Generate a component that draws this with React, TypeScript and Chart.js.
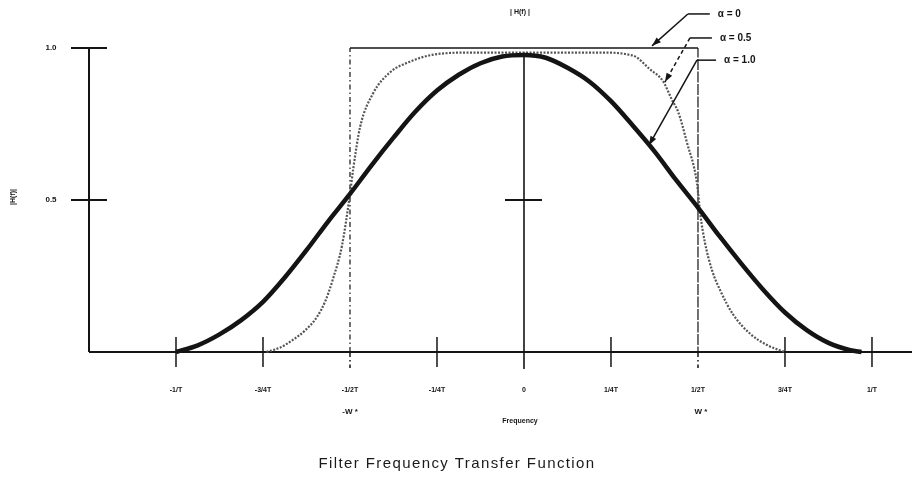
import React, { useEffect, useRef } from "react";
import { Chart, registerables } from "chart.js";

Chart.register(...registerables);

// Frequency in units of 1/T
const tickValues = [-1, -0.75, -0.5, -0.25, 0, 0.25, 0.5, 0.75, 1];
const tickLabels = ["-1/T", "-3/4T", "-1/2T", "-1/4T", "0", "1/4T", "1/2T", "3/4T", "1/T"];
const yTickValues = [1.0, 0.5];
const yTickLabels = ["1.0", "0.5"];

// alpha = 1.0 (thick curve)
const alpha1Freq = [-1.0, -0.9375, -0.875, -0.8125, -0.75, -0.6875, -0.625, -0.5625, -0.5, -0.4375, -0.375, -0.3125, -0.25, -0.1875, -0.125, -0.0625, 0, 0.0625, 0.125, 0.1875, 0.25, 0.3125, 0.375, 0.4375, 0.5, 0.5625, 0.625, 0.6875, 0.75, 0.8125, 0.875, 0.9375, 0.97];
const alpha1Gain = [0.0, 0.022, 0.058, 0.105, 0.165, 0.245, 0.335, 0.43, 0.52, 0.615, 0.705, 0.79, 0.86, 0.912, 0.95, 0.972, 0.977, 0.968, 0.935, 0.89, 0.825, 0.745, 0.66, 0.565, 0.475, 0.38, 0.29, 0.205, 0.13, 0.072, 0.03, 0.006, 0.0];

// alpha = 0.5 (dotted curve)
const alpha05Freq = [-0.74, -0.7, -0.664, -0.63, -0.595, -0.57, -0.549, -0.523, -0.5, -0.491, -0.471, -0.434, -0.385, -0.328, -0.261, -0.15, 0, 0.218, 0.313, 0.362, 0.4, 0.425, 0.443, 0.468, 0.497, 0.507, 0.52, 0.54, 0.565, 0.6, 0.65, 0.7, 0.75];
const alpha05Gain = [0.0, 0.015, 0.04, 0.07, 0.115, 0.17, 0.24, 0.35, 0.52, 0.6, 0.74, 0.85, 0.92, 0.955, 0.978, 0.985, 0.985, 0.985, 0.975, 0.93, 0.89, 0.83, 0.79, 0.69, 0.556, 0.45, 0.36, 0.27, 0.2, 0.125, 0.06, 0.022, 0.0];

// alpha = 0 (ideal rectangle)
const alpha0Freq = [-0.5, -0.5, 0.5, 0.5];
const alpha0Gain = [0, 1, 1, 0];

const legendLabels = ["α = 0", "α = 0.5", "α = 1.0"];
// leader lines in data units
const leaderElbowF = [0.471, 0.477, 0.497];
const leaderElbowH = [1.112, 1.033, 0.96];
const leaderEndF = [0.534, 0.54, 0.552];
const leaderTargetF = [0.368, 0.405, 0.359];
const leaderTargetH = [1.007, 0.888, 0.68];

const toPts = (xs: number[], ys: number[]) => xs.map((x, i) => ({ x, y: ys[i] }));

const INK = "#141414";

const decorPlugin = {
  id: "decor",
  beforeDatasetsDraw(chart: any) {
    const ctx = chart.ctx;
    const xs = chart.scales.x;
    const ys = chart.scales.y;
    const px = (v: number) => xs.getPixelForValue(v);
    const py = (v: number) => ys.getPixelForValue(v);
    const x0 = px(xs.min);
    const y0 = py(0);
    ctx.save();
    ctx.strokeStyle = INK;
    ctx.lineCap = "butt";
    ctx.lineWidth = 2;
    ctx.beginPath();
    ctx.moveTo(x0, py(1));
    ctx.lineTo(x0, y0);
    ctx.stroke();
    ctx.beginPath();
    ctx.moveTo(x0, y0);
    ctx.lineTo(px(xs.max), y0);
    ctx.stroke();
    yTickValues.forEach((v) => {
      ctx.beginPath();
      ctx.moveTo(x0 - 18, py(v));
      ctx.lineTo(x0 + 18, py(v));
      ctx.stroke();
    });
    ctx.lineWidth = 1.6;
    ctx.beginPath();
    ctx.moveTo(px(0), py(0.985));
    ctx.lineTo(px(0), y0 + 17);
    ctx.stroke();
    ctx.lineWidth = 2;
    ctx.beginPath();
    ctx.moveTo(px(0) - 19, py(0.5));
    ctx.lineTo(px(0) + 18, py(0.5));
    ctx.stroke();
    tickValues.forEach((v) => {
      if (v === 0) return;
      ctx.lineWidth = 1.5;
      if (Math.abs(v) === 0.5) {
        ctx.setLineDash([5, 3, 1.5, 3]);
        ctx.beginPath();
        ctx.moveTo(px(v), y0);
        ctx.lineTo(px(v), y0 + 16);
        ctx.stroke();
        ctx.setLineDash([]);
      } else {
        ctx.beginPath();
        ctx.moveTo(px(v), y0 - 15);
        ctx.lineTo(px(v), y0 + 15);
        ctx.stroke();
      }
    });
    ctx.restore();
  },
  afterDatasetsDraw(chart: any) {
    const ctx = chart.ctx;
    const xs = chart.scales.x;
    const ys = chart.scales.y;
    const px = (v: number) => xs.getPixelForValue(v);
    const py = (v: number) => ys.getPixelForValue(v);
    const x0 = px(xs.min);
    const y0 = py(0);
    ctx.save();
    ctx.fillStyle = INK;
    ctx.textAlign = "center";
    ctx.textBaseline = "middle";
    ctx.font = "bold 7px 'Liberation Sans', Arial, sans-serif";
    tickValues.forEach((v, i) => {
      ctx.fillText(tickLabels[i], px(v), y0 + 38);
    });
    ctx.font = "bold 8px 'Liberation Sans', Arial, sans-serif";
    ctx.fillText("-W *", px(-0.5), y0 + 60);
    ctx.fillText("W *", px(0.5) + 3, y0 + 60);
    ctx.font = "bold 7px 'Liberation Sans', Arial, sans-serif";
    ctx.fillText("Frequency", px(0) - 4, y0 + 69);
    ctx.font = "bold 8px 'Liberation Sans', Arial, sans-serif";
    yTickValues.forEach((v, i) => {
      ctx.fillText(yTickLabels[i], x0 - 38, py(v));
    });
    ctx.save();
    ctx.translate(13, py(0.51));
    ctx.rotate(-Math.PI / 2);
    ctx.font = "bold 7px 'Liberation Sans', Arial, sans-serif";
    ctx.fillText("|H(f)|", 0, 0);
    ctx.restore();
    ctx.font = "bold 7px 'Liberation Sans', Arial, sans-serif";
    ctx.fillText("| H(f) |", px(0) - 4, 12);
    ctx.strokeStyle = INK;
    legendLabels.forEach((lab, i) => {
      const ex = px(leaderElbowF[i]);
      const ey = py(leaderElbowH[i]);
      const endX = px(leaderEndF[i]);
      const tx = px(leaderTargetF[i]);
      const ty = py(leaderTargetH[i]);
      ctx.lineWidth = 1.5;
      ctx.setLineDash([]);
      ctx.beginPath();
      ctx.moveTo(endX, ey);
      ctx.lineTo(ex, ey);
      ctx.stroke();
      if (i === 1) ctx.setLineDash([4, 3]);
      ctx.beginPath();
      ctx.moveTo(ex, ey);
      ctx.lineTo(tx, ty);
      ctx.stroke();
      ctx.setLineDash([]);
      const ang = Math.atan2(ty - ey, tx - ex);
      const L = 9, W = 3.2;
      ctx.beginPath();
      ctx.moveTo(tx, ty);
      ctx.lineTo(tx - L * Math.cos(ang) + W * Math.sin(ang), ty - L * Math.sin(ang) - W * Math.cos(ang));
      ctx.lineTo(tx - L * Math.cos(ang) - W * Math.sin(ang), ty - L * Math.sin(ang) + W * Math.cos(ang));
      ctx.closePath();
      ctx.fill();
      ctx.font = "bold 10px 'Liberation Sans', Arial, sans-serif";
      ctx.textAlign = "left";
      ctx.fillText(lab, endX + 8, ey);
    });
    ctx.textAlign = "center";
    ctx.font = "15px 'Liberation Sans', Arial, sans-serif";
    (ctx as any).letterSpacing = "1.4px";
    ctx.fillStyle = "#1a1a1a";
    ctx.fillText("Filter Frequency Transfer Function", 457, 464);
    (ctx as any).letterSpacing = "0px";
    ctx.restore();
  },
};

export default function App() {
  const ref = useRef<HTMLCanvasElement | null>(null);
  useEffect(() => {
    if (!ref.current) return;
    const chart = new Chart(ref.current, {
      type: "line",
      data: {
        datasets: [
          {
            label: "α = 1.0",
            data: toPts(alpha1Freq, alpha1Gain),
            borderColor: INK,
            borderWidth: 4.5,
            pointRadius: 0,
            cubicInterpolationMode: "monotone",
            fill: false,
            clip: false as any,
          },
          {
            label: "α = 0.5",
            data: toPts(alpha05Freq, alpha05Gain),
            borderColor: "#555555",
            borderWidth: 2.2,
            borderDash: [2, 1.5],
            pointRadius: 0,
            cubicInterpolationMode: "monotone",
            fill: false,
            clip: false as any,
          },
          {
            label: "α = 0",
            data: toPts(alpha0Freq, alpha0Gain),
            borderColor: INK,
            borderWidth: 1.6,
            pointRadius: 0,
            tension: 0,
            fill: false,
            clip: false as any,
            segment: {
              borderDash: (c: any) => (c.p0DataIndex === 1 ? undefined : [5, 3, 1.5, 3]),
              borderWidth: (c: any) => (c.p0DataIndex === 1 ? 1.6 : 1.2),
            },
          } as any,
        ],
      },
      options: {
        animation: false,
        responsive: false,
        layout: { padding: { left: 89, right: 0, top: 48, bottom: 128 } },
        plugins: { legend: { display: false }, tooltip: { enabled: false }, title: { display: false } },
        scales: {
          x: { type: "linear", min: -1.25, max: 1.115, display: false },
          y: { type: "linear", min: 0, max: 1, display: false },
        },
      },
      plugins: [decorPlugin],
    });
    return () => chart.destroy();
  }, []);
  return (
    <div style={{ position: "absolute", left: 0, top: 0, width: 912, height: 480, background: "#fff" }}>
      <canvas ref={ref} width={912} height={480} style={{ display: "block" }} />
    </div>
  );
}
